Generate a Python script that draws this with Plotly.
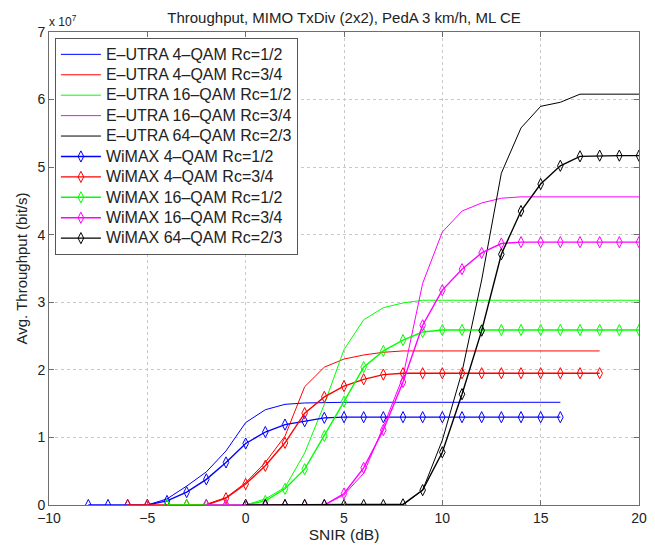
import plotly.graph_objects as go

# SNIR grids (dB)
snr_eutra_b = list(range(-5, 17))
snr_eutra_r = list(range(-3, 19))
snr_eutra_g = list(range(0, 21))
snr_eutra_m = list(range(4, 21))
snr_eutra_k = list(range(7, 21))

snr_wimax_b = list(range(-8, 17))
snr_wimax_r = list(range(-6, 19))
snr_wimax_g = list(range(-4, 21))
snr_wimax_m = list(range(-2, 21))
snr_wimax_k = list(range(0, 21))

# Average throughput, units of 1e7 bit/s
eutra_4qam_12 = [0.0, 0.09, 0.28, 0.49, 0.80, 1.22, 1.41, 1.49, 1.51, 1.52, 1.52,
                 1.52, 1.52, 1.52, 1.52, 1.52, 1.52, 1.52, 1.52, 1.52, 1.52, 1.52]
eutra_4qam_34 = [0.0, 0.01, 0.11, 0.33, 0.63, 1.02, 1.75, 2.04, 2.16, 2.22, 2.26,
                 2.28, 2.28, 2.28, 2.28, 2.28, 2.28, 2.28, 2.28, 2.28, 2.28, 2.28]
eutra_16qam_12 = [0.0, 0.09, 0.26, 0.77, 1.49, 2.30, 2.74, 2.92, 2.99, 3.03, 3.03,
                  3.03, 3.03, 3.03, 3.03, 3.03, 3.03, 3.03, 3.03, 3.03, 3.03]
eutra_16qam_34 = [0.0, 0.15, 0.47, 1.16, 1.90, 3.28, 4.04, 4.35, 4.47, 4.54, 4.56,
                  4.56, 4.56, 4.56, 4.56, 4.56, 4.56]
eutra_64qam_23 = [0.0, 0.0, 0.22, 0.96, 1.97, 3.33, 4.91, 5.58, 5.90, 5.96, 6.08,
                  6.08, 6.08, 6.08]

wimax_4qam_12 = [0.0, 0.0, 0.0, 0.0, 0.06, 0.19, 0.38, 0.63, 0.91, 1.08, 1.19, 1.24,
                 1.29, 1.30, 1.30, 1.30, 1.30, 1.30, 1.30, 1.30, 1.30, 1.30, 1.30, 1.30, 1.30]
wimax_4qam_34 = [0.0, 0.0, 0.0, 0.0, 0.0, 0.10, 0.31, 0.58, 0.92, 1.36, 1.60, 1.76,
                 1.86, 1.93, 1.95, 1.95, 1.95, 1.95, 1.95, 1.95, 1.95, 1.95, 1.95, 1.95, 1.95]
wimax_16qam_12 = [0.0, 0.0, 0.0, 0.0, 0.0, 0.06, 0.24, 0.53, 1.02, 1.53, 2.04, 2.28,
                  2.44, 2.56, 2.59, 2.59, 2.59, 2.59, 2.59, 2.59, 2.59, 2.59, 2.59, 2.59, 2.59]
wimax_16qam_34 = [0.0, 0.0, 0.0, 0.0, 0.0, 0.0, 0.0, 0.17, 0.55, 1.11, 1.82, 2.66,
                  3.18, 3.49, 3.73, 3.87, 3.89, 3.89, 3.89, 3.89, 3.89, 3.89, 3.89]
wimax_64qam_23 = [0.0, 0.0, 0.0, 0.0, 0.0, 0.0, 0.0, 0.0, 0.01, 0.22, 0.78, 1.64,
                  2.58, 3.71, 4.35, 4.75, 5.02, 5.16, 5.17, 5.17, 5.17]

y_ticks = [0, 1, 2, 3, 4, 5, 6, 7]
x_ticks = [-10, -5, 0, 5, 10, 15, 20]

SCALE = 1e7

eutra = [
    ("E\u2013UTRA 4\u2013QAM Rc=1/2", snr_eutra_b, eutra_4qam_12, "#0000ff"),
    ("E\u2013UTRA 4\u2013QAM Rc=3/4", snr_eutra_r, eutra_4qam_34, "#ff0000"),
    ("E\u2013UTRA 16\u2013QAM Rc=1/2", snr_eutra_g, eutra_16qam_12, "#00ff00"),
    ("E\u2013UTRA 16\u2013QAM Rc=3/4", snr_eutra_m, eutra_16qam_34, "#ff00ff"),
    ("E\u2013UTRA 64\u2013QAM Rc=2/3", snr_eutra_k, eutra_64qam_23, "#000000"),
]
wimax = [
    ("WiMAX 4\u2013QAM Rc=1/2", snr_wimax_b, wimax_4qam_12, "#0000ff"),
    ("WiMAX 4\u2013QAM Rc=3/4", snr_wimax_r, wimax_4qam_34, "#ff0000"),
    ("WiMAX 16\u2013QAM Rc=1/2", snr_wimax_g, wimax_16qam_12, "#00ff00"),
    ("WiMAX 16\u2013QAM Rc=3/4", snr_wimax_m, wimax_16qam_34, "#ff00ff"),
    ("WiMAX 64\u2013QAM Rc=2/3", snr_wimax_k, wimax_64qam_23, "#000000"),
]


def legend_label(text):
    # larger glyphs than the legend's row spacing would normally allow
    return f"<span style='font-size:16px'>{text}</span>"


fig = go.Figure()
for name, xs, ys, col in eutra:
    fig.add_trace(go.Scatter(
        x=xs, y=[v * SCALE for v in ys], name=legend_label(name), mode="lines",
        line=dict(color=col, width=1),
    ))
for name, xs, ys, col in wimax:
    fig.add_trace(go.Scatter(
        x=xs, y=[v * SCALE for v in ys], name=legend_label(name), mode="lines+markers",
        line=dict(color=col, width=1.4),
        marker=dict(symbol="diamond-tall-open", size=8, color=col,
                    line=dict(color=col, width=1)),
    ))

font_family = "Liberation Sans, Arial, sans-serif"
axis_common = dict(
    showline=True, linecolor="#6e6e6e", linewidth=1, mirror="ticks",
    ticks="inside", ticklen=5, tickcolor="#6e6e6e",
    showgrid=True, gridcolor="#c8c8c8", griddash="dot", gridwidth=1,
    zeroline=False, tickfont=dict(size=14, color="#222222", family=font_family),
)

fig.update_layout(
    width=655, height=550,
    margin=dict(l=49, r=8, t=32, b=45),
    paper_bgcolor="white", plot_bgcolor="white",
    font=dict(family=font_family, size=14, color="#222222"),
    title=dict(text="Throughput, MIMO TxDiv (2x2), PedA 3 km/h, ML CE",
               xref="paper", x=0.5, xanchor="center", y=0.968, yanchor="middle",
               font=dict(size=15, color="#222222")),
    xaxis=dict(range=[-10, 20], tickvals=x_ticks,
               ticktext=["\u221210", "\u22125", "0", "5", "10", "15", "20"],
               title=dict(text="SNIR (dB)", standoff=2, font=dict(size=15.5)),
               **axis_common),
    yaxis=dict(range=[0, 7 * SCALE], tickvals=[v * SCALE for v in y_ticks],
               ticktext=[str(v) for v in y_ticks],
               title=dict(text="Avg. Throughput (bit/s)", standoff=6, font=dict(size=15)),
               **axis_common),
    legend=dict(x=0.01, y=0.987, xanchor="left", yanchor="top",
                bgcolor="white", bordercolor="#555555", borderwidth=1,
                font=dict(size=13.4, color="#222222"), tracegroupgap=0,
                itemwidth=40),
    showlegend=True,
)

fig.add_annotation(
    text="x 10<sup>7</sup>", xref="paper", yref="paper", x=0.0, y=1.0,
    xanchor="left", yanchor="bottom", showarrow=False, xshift=-2, yshift=1,
    font=dict(size=12, color="#222222"),
)

fig.write_html("out.html")
